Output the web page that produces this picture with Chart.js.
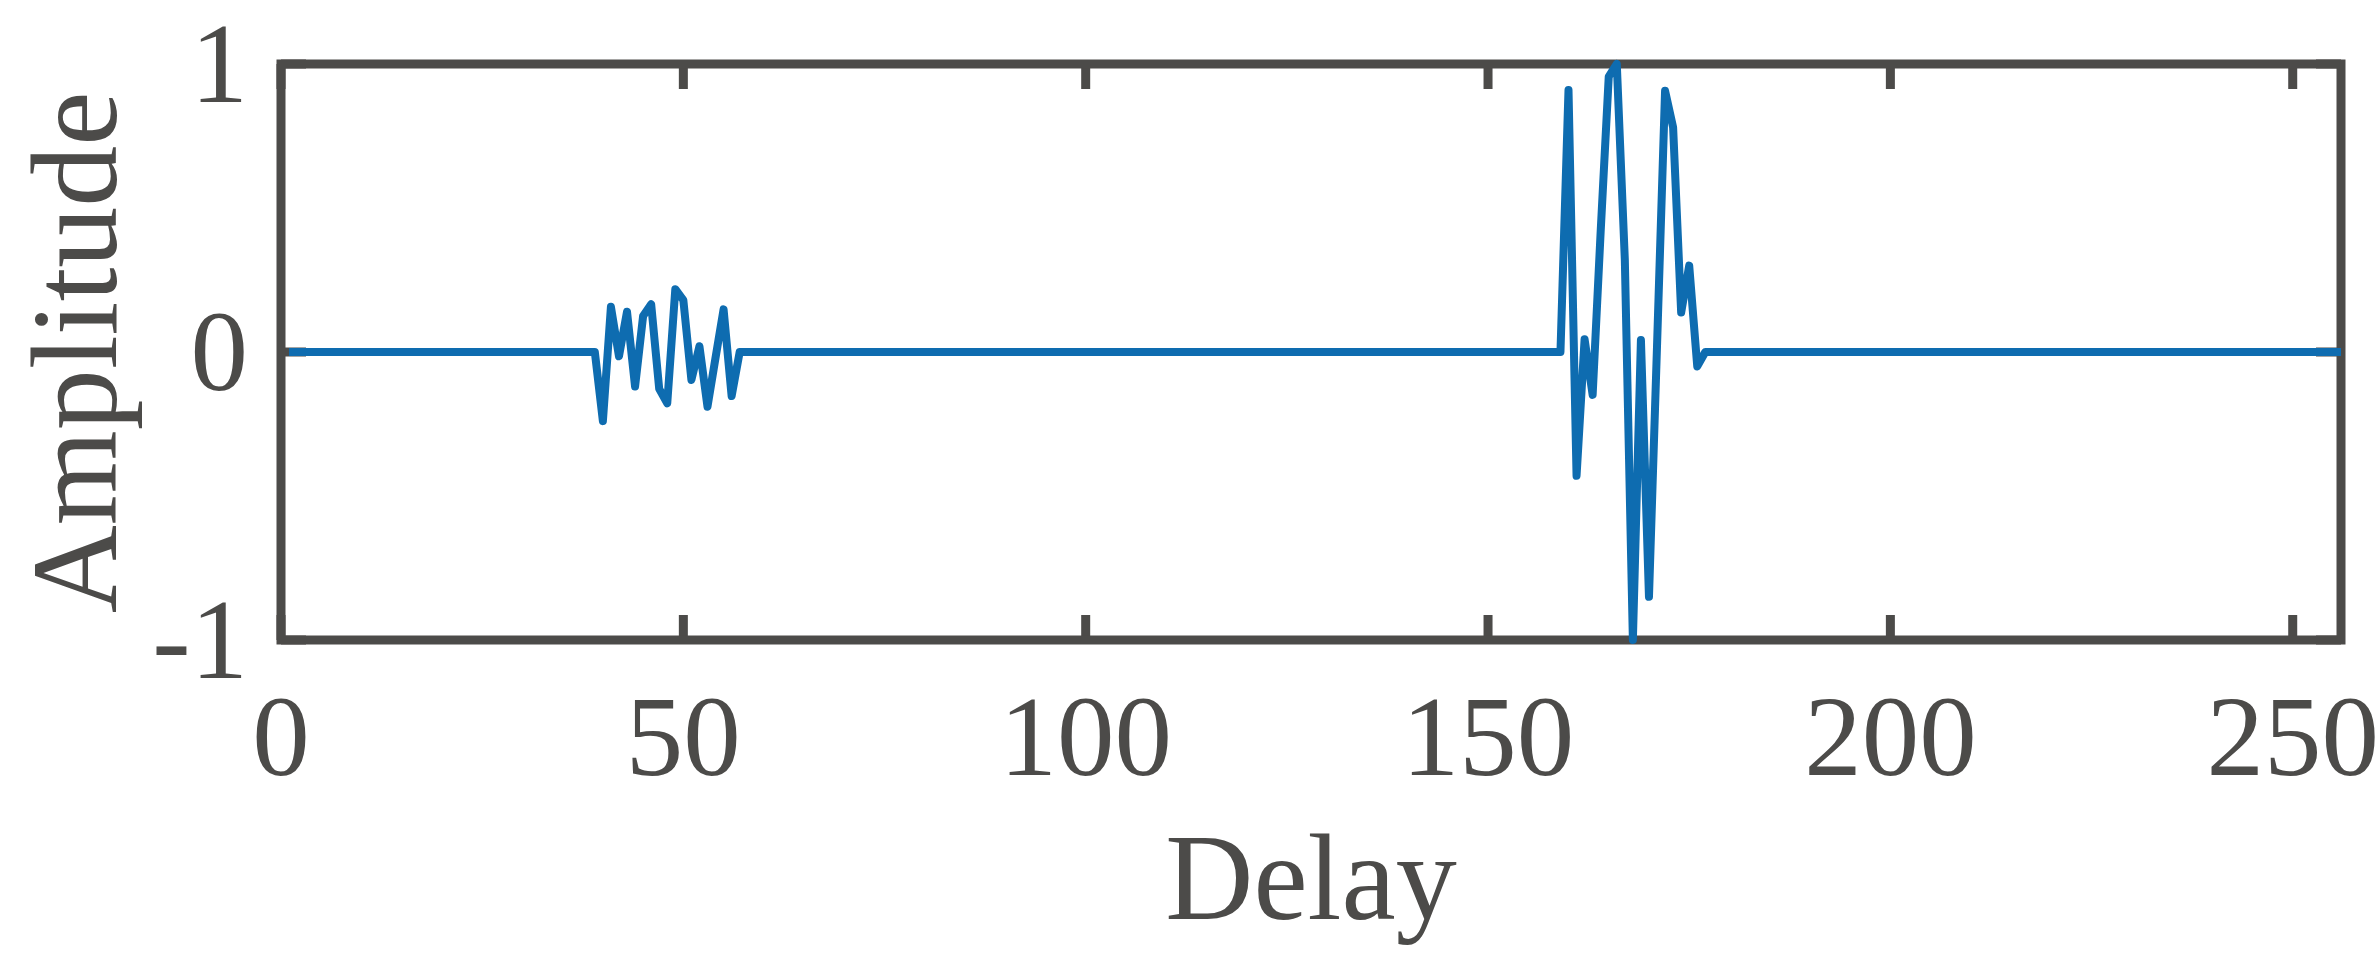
<!DOCTYPE html>
<html><head><meta charset="utf-8">
<script src="https://cdn.jsdelivr.net/npm/chart.js@4.4.1/dist/chart.umd.min.js"></script>
<style>html,body{margin:0;padding:0;background:#fff;} canvas{display:block;}</style>
</head><body>
<canvas id="c" width="2379" height="960"></canvas>
<script>
// ---- data ----
const delay = [1, 39, 40, 41, 42, 43, 44, 45, 46, 47, 48, 49, 50, 51, 52, 53, 54, 55, 56, 57,
               159, 160, 161, 162, 163, 164, 165, 166, 167, 168, 169, 170, 171, 172, 173, 174, 175, 176, 177, 256];
const amplitude = [0, 0, -0.24, 0.157, -0.015, 0.14, -0.12, 0.125, 0.166, -0.128, -0.178, 0.218, 0.18, -0.097, 0.02, -0.19, -0.02, 0.148, -0.153, 0,
               0, 0.91, -0.43, 0.044, -0.149, 0.42, 0.956, 1.0, 0.32, -1.0, 0.042, -0.85, 0.02, 0.907, 0.78, 0.137, 0.30, -0.05, 0, 0];
const xTicks = [0, 50, 100, 150, 200, 250];
const xTickLabels = ['0', '50', '100', '150', '200', '250'];
const yTicks = [-1, 0, 1];
const yTickLabels = ['-1', '0', '1'];
const xTitle = 'Delay';
const yTitle = 'Amplitude';

const AXIS = '#4c4b49';
const LINE = '#0e6cb0';
const FONT = '"Liberation Serif", "Times New Roman", serif';
const TICK_SIZE = 115;
const TITLE_SIZE = 122;

// vertical correction so tick digits are centred on their tick (like MATLAB)
const mctx = document.createElement('canvas').getContext('2d');
mctx.font = TICK_SIZE + 'px ' + FONT;
mctx.textBaseline = 'middle';
const dm = mctx.measureText('0123456789');
const digitShift = (dm.actualBoundingBoxAscent - dm.actualBoundingBoxDescent) / 2;

const axisBox = {
  id: 'axisBox',
  beforeDraw(chart) {
    const items = chart.scales.y.getLabelItems(chart.chartArea);
    if (!items._shifted) {
      items.forEach(it => { it.textOffset += digitShift; });
      items._shifted = true;
    }
  },
  beforeDatasetsDraw(chart) {
    const {ctx, chartArea: {left, right, top, bottom}, scales: {x, y}} = chart;
    ctx.save();
    ctx.strokeStyle = AXIS;
    ctx.lineWidth = 9;
    ctx.lineCap = 'butt';
    ctx.lineJoin = 'miter';
    const tl = 25;
    ctx.beginPath();
    xTicks.forEach(v => {
      const px = x.getPixelForValue(v);
      ctx.moveTo(px, bottom); ctx.lineTo(px, bottom - tl);
      ctx.moveTo(px, top); ctx.lineTo(px, top + tl);
    });
    yTicks.forEach(v => {
      const py = y.getPixelForValue(v);
      ctx.moveTo(left, py); ctx.lineTo(left + tl, py);
      ctx.moveTo(right, py); ctx.lineTo(right - tl, py);
    });
    ctx.stroke();
    ctx.strokeRect(left, top, right - left, bottom - top);
    ctx.restore();
  },
  afterDraw(chart) {
    // y-axis title, rotated, centred on the axis
    const {ctx, chartArea: {top, bottom}} = chart;
    ctx.save();
    ctx.fillStyle = AXIS;
    ctx.font = TITLE_SIZE + 'px ' + FONT;
    ctx.textAlign = 'left';
    ctx.textBaseline = 'alphabetic';
    const m = ctx.measureText(yTitle);
    const inkL = m.actualBoundingBoxLeft, inkR = m.actualBoundingBoxRight;
    const centre = (top + bottom) / 2 + 2;
    const y0 = centre + (inkR - inkL) / 2;
    ctx.translate(116, y0);
    ctx.rotate(-Math.PI / 2);
    ctx.fillText(yTitle, 0, 0);
    ctx.restore();
  }
};

new Chart(document.getElementById('c'), {
  type: 'line',
  data: {
    datasets: [{
      data: delay.map((d, i) => ({x: d, y: amplitude[i]})),
      borderColor: LINE,
      borderWidth: 8,
      pointRadius: 0,
      tension: 0,
      fill: false,
      borderJoinStyle: 'round',
      clip: false
    }]
  },
  options: {
    responsive: false,
    animation: false,
    devicePixelRatio: 1,
    layout: {padding: {left: 2, right: 38, top: 64, bottom: 0}},
    plugins: {legend: {display: false}, tooltip: {enabled: false}},
    scales: {
      x: {
        type: 'linear', min: 0, max: 256,
        afterBuildTicks: s => { s.ticks = xTicks.map(v => ({value: v})); },
        afterFit: s => { s.height = 960 - 640; s.paddingLeft = 0; s.paddingRight = 0; },
        grid: {display: false, drawTicks: false},
        border: {display: false},
        ticks: {
          padding: 36, color: AXIS, maxRotation: 0, autoSkip: false,
          font: {family: FONT, size: TICK_SIZE, lineHeight: 1.2},
          callback: v => xTickLabels[xTicks.indexOf(v)]
        },
        title: {display: true, text: xTitle, color: AXIS, padding: {top: 0, bottom: 0},
                font: {family: FONT, size: TITLE_SIZE, lineHeight: 1.2}}
      },
      y: {
        type: 'linear', min: -1, max: 1,
        afterBuildTicks: s => { s.ticks = yTicks.map(v => ({value: v})); },
        afterFit: s => { s.width = 279; s.paddingTop = 0; s.paddingBottom = 0; },
        grid: {display: false, drawTicks: false},
        border: {display: false},
        ticks: {
          padding: 33, color: AXIS, autoSkip: false,
          font: {family: FONT, size: TICK_SIZE, lineHeight: 1.2},
          callback: v => yTickLabels[yTicks.indexOf(v)]
        },
        title: {display: false, text: yTitle}
      }
    }
  },
  plugins: [axisBox]
});
</script>
</body></html>
